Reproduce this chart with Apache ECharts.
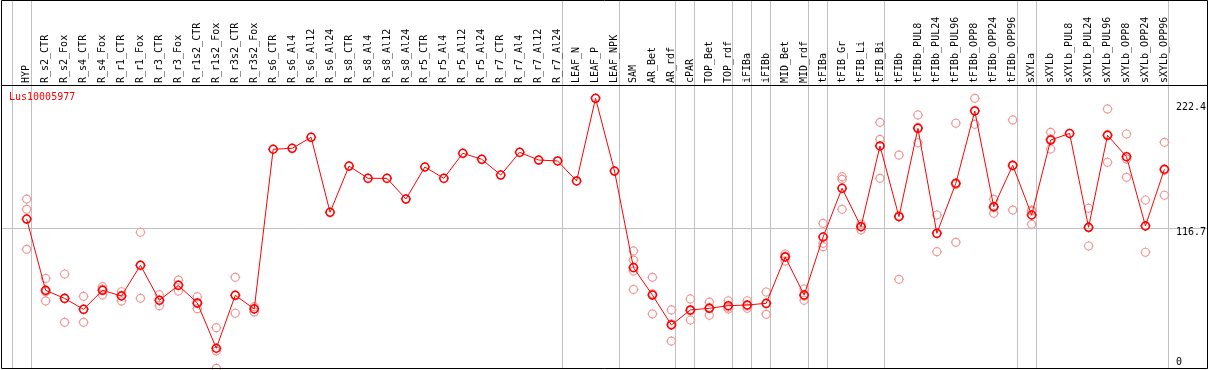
<!DOCTYPE html>
<html>
<head>
<meta charset="utf-8">
<script src="https://cdn.jsdelivr.net/npm/echarts@6/dist/echarts.min.js"></script>
<style>
html,body{margin:0;padding:0;background:#fff;}
#chart{width:1209px;height:370px;}
</style>
</head>
<body>
<div id="chart"></div>
<script>
const geneName = 'Lus10005977';
const categories = ['HYP','R_s2_CTR','R_s2_Fox','R_s4_CTR','R_s4_Fox','R_r1_CTR','R_r1_Fox','R_r3_CTR','R_r3_Fox','R_r1s2_CTR','R_r1s2_Fox','R_r3s2_CTR','R_r3s2_Fox','R_s6_CTR','R_s6_Al4','R_s6_Al12','R_s6_Al24','R_s8_CTR','R_s8_Al4','R_s8_Al12','R_s8_Al24','R_r5_CTR','R_r5_Al4','R_r5_Al12','R_r5_Al24','R_r7_CTR','R_r7_Al4','R_r7_Al12','R_r7_Al24','LEAF_N','LEAF_P','LEAF_NPK','SAM','AR_Bet','AR_rdf','cPAR','TOP_Bet','TOP_rdf','iFIBa','iFIBb','MID_Bet','MID_rdf','tFIBa','tFIB_Gr','tFIB_Li','tFIB_Bi','tFIBb','tFIBb_PUL8','tFIBb_PUL24','tFIBb_PUL96','tFIBb_OPP8','tFIBb_OPP24','tFIBb_OPP96','sXYLa','sXYLb','sXYLb_PUL8','sXYLb_PUL24','sXYLb_PUL96','sXYLb_OPP8','sXYLb_OPP24','sXYLb_OPP96'];
const means = [124.3,64.0,57.2,47.9,64.0,59.2,85.2,55.6,68.2,53.3,15.0,59.8,48.2,183.3,184.1,193.4,130.0,169.1,158.7,158.7,141.2,168.3,158.7,179.9,174.8,161.5,180.7,174.2,173.4,156.5,226.4,164.9,83.2,60.0,34.7,47.4,48.8,51.0,51.6,53.0,92.2,60.0,109.1,150.3,117.8,186.1,126.3,201.0,112.2,154.5,215.7,134.7,169.7,127.7,191.1,196.7,117.3,195.1,177.0,118.4,166.4];
const replicates = [
 [141.2,132.5,98.7],[74.1,55.0,62.9],[77.8,36.9,56.9],[58.9,36.9,48.0],[67.1,60.0,65.0],
 [62.8,55.0,59.8],[113.1,57.2,85.3],[60.3,51.0,55.5],[72.7,63.4,68.5],[58.6,48.5,52.8],
 [32.4,12.6,-2.0],[75.0,44.6,59.8],[50.2,45.7,48.7],
 [],[],[],[],[],[],[],[],[],[],[],[],[],[],[],[],[],[],[],
 [97.3,89.6,80.3,64.8],[75.0,44.0,61.0],[47.4,21.1,35.6],[56.7,38.9,46.6],[54.1,42.9,49.4],
 [55.2,48.2,49.6],[55.2,48.8,50.8],[62.6,43.7,52.7],[94.7,88.8,93.0],[65.1,55.6,59.3],
 [120.7,103.8,100.9],[160.1,157.9,132.5],[120.1,115.0,118.0],[206.1,191.7,158.7],[178.4,73.3,127.2],
 [212.3,188.8,201.9],[127.7,96.7,112.0],[205.3,104.6,153.6],[226.4,204.4,216.0],[141.0,129.1,134.0],
 [208.1,131.9,169.1],[131.9,119.8,131.0],[197.6,183.5,192.0],[],[133.4,101.5,117.0],
 [217.4,172.3,195.6],[196.2,159.6,175.0],[140.4,96.2,118.6],[189.2,144.4,165.6]
];
const yTickLabels = [0, 116.7, 222.4];
const yMax = 236.8;
const gridValue = 116.7;
// category indices after which a gray group separator is drawn
const groupBreaks = [-1,0,28,31,34,35,37,38,39,41,42,45,52,53,60];

const repPoints = [];
replicates.forEach((arr, i) => arr.forEach(v => repPoints.push([i, v])));

const mono = 'DejaVu Sans Mono';
const sym = 'path://M5,0 L5,1 M5,9 L5,10 M0,5 L1,5 M9,5 L10,5 M9,5 A4,4 0 1 1 1,5 A4,4 0 1 1 9,5';

const chart = echarts.init(document.getElementById('chart'), null, {renderer:'canvas'});
const option = {
  animation: false,
  grid: {left: 17.2, top: 86, width: 1159, height: 280, containLabel: false},
  xAxis: {
    type: 'category', position: 'top', data: categories, boundaryGap: true,
    axisLine: {show: false}, axisTick: {show: false}, splitLine: {show: false},
    axisLabel: {interval: 0, rotate: 90, margin: 3, color: '#000', fontFamily: mono, fontSize: 10, hideOverlap: false}
  },
  yAxis: {
    type: 'value', position: 'right', min: 0, max: yMax,
    axisLine: {show: false}, axisTick: {show: false}, splitLine: {show: false},
    axisLabel: {
      customValues: yTickLabels, margin: 2, align: 'left', color: '#000', fontFamily: mono, fontSize: 10,
      formatter: v => (v === 0 ? '{b|' + v + '}' : '{t|' + v + '}'),
      rich: {
        t: {padding: [8,0,0,0], fontFamily: mono, fontSize: 10, color: '#000'},
        b: {padding: [0,0,8,0], fontFamily: mono, fontSize: 10, color: '#000'}
      }
    }
  },
  series: [
    {
      type: 'scatter', data: repPoints, symbol: sym, symbolSize: 10, clip: false, z: 3,
      itemStyle: {color: 'rgba(0,0,0,0)', borderColor: '#f09898', borderWidth: 1.2, opacity: 1},
      silent: true
    },
    {
      type: 'line', data: means, symbol: sym, symbolSize: 10, showAllSymbol: true, z: 4,
      lineStyle: {color: '#ff0000', width: 1},
      itemStyle: {color: 'rgba(0,0,0,0)', borderColor: '#ff0000', borderWidth: 1.5},
      silent: true
    }
  ]
};
chart.setOption(option);

const gfx = [];
const x0 = chart.convertToPixel({xAxisIndex: 0}, 0);
const x1 = chart.convertToPixel({xAxisIndex: 0}, 1);
const step = x1 - x0;
groupBreaks.forEach(i => {
  const x = Math.round(x0 + step * i + 4) + 0.5;
  gfx.push({type: 'line', z: 0, silent: true, shape: {x1: x, y1: 0, x2: x, y2: 369}, style: {stroke: '#c0c0c0', lineWidth: 1}});
});
const gy = Math.round(chart.convertToPixel({yAxisIndex: 0}, gridValue)) + 0.5;
gfx.push({type: 'line', z: 0, silent: true, shape: {x1: 1, y1: gy, x2: 1207, y2: gy}, style: {stroke: '#c0c0c0', lineWidth: 1}});
gfx.push({type: 'line', z: 10, silent: true, shape: {x1: 1, y1: 85.5, x2: 1207, y2: 85.5}, style: {stroke: '#000', lineWidth: 1}});
gfx.push({type: 'rect', z: 10, silent: true, shape: {x: 1.5, y: 0.5, width: 1206, height: 368}, style: {fill: null, stroke: '#000', lineWidth: 1}});
gfx.push({type: 'text', z: 10, silent: true, x: 9, y: 92, style: {text: geneName, fill: '#ff0000', font: '10px "DejaVu Sans Mono"'}});
chart.setOption({graphic: gfx});
</script>
</body>
</html>
